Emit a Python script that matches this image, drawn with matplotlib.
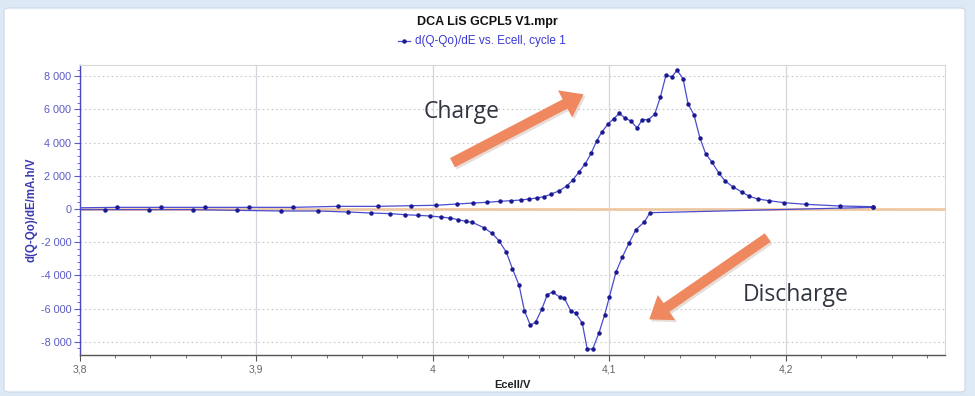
import matplotlib
matplotlib.use("Agg")
import matplotlib.pyplot as plt
from matplotlib.patches import FancyBboxPatch, FancyArrowPatch
from matplotlib.ticker import MultipleLocator, FuncFormatter

# ---- data ----
charge_E = [3.790, 3.8214, 3.8463, 3.871, 3.896, 3.921, 3.9466, 3.9693, 3.988, 4.0019,
            4.0137, 4.0231, 4.0310, 4.0382, 4.0443, 4.0499, 4.0548, 4.0590, 4.0631,
            4.0669, 4.0718, 4.0760, 4.0794, 4.0831, 4.0864, 4.0898, 4.0930, 4.0960,
            4.0994, 4.1026, 4.1058, 4.1092, 4.1124, 4.1158, 4.1188, 4.1222, 4.1258,
            4.1290, 4.1322, 4.1356, 4.1385, 4.1419, 4.1447, 4.1481, 4.1515, 4.1547,
            4.1581, 4.1623, 4.1657, 4.1700, 4.1755, 4.1794, 4.1844, 4.1906, 4.1993,
            4.2114, 4.2308, 4.2494]
charge_dQ = [60, 100, 100, 100, 100, 100, 160, 160, 200, 223,
             301, 361, 404, 464, 500, 542, 602, 663, 741,
             885, 1102, 1385, 1747, 2247, 2711, 3355, 4114, 4659,
             5120, 5442, 5763, 5462, 5301, 4879, 5382, 5382, 5703,
             6727, 8052, 7972, 8353, 7852, 6346, 5663, 4257, 3333,
             2851, 2148, 1687, 1345, 1006, 765, 602, 500, 380,
             283, 181, 139]
discharge_E = [4.2494, 4.1232, 4.1199, 4.1152, 4.1113, 4.1075, 4.1039, 4.1001, 4.0975,
               4.0943, 4.0907, 4.0876, 4.0848, 4.0812, 4.0782, 4.0746, 4.0722, 4.0680,
               4.0650, 4.0618, 4.0584, 4.0554, 4.0520, 4.0490, 4.0452, 4.0418, 4.0376,
               4.0337, 4.0290, 4.0225, 4.0188, 4.0144, 4.0099, 4.0046, 3.9985, 3.9919,
               3.9844, 3.976, 3.965, 3.952, 3.935, 3.9143, 3.8892, 3.8644, 3.8393,
               3.8146, 3.790]
discharge_dQ = [100, -223, -783, -1245, -2048, -2892, -3795, -5321, -6365,
                -7450, -8434, -8434, -6888, -6285, -6124, -5361, -5321, -5000,
                -5160, -6044, -6807, -7008, -6124, -4598, -3594, -2610, -1908,
                -1466, -1125, -803, -743, -642, -542, -482, -422, -382,
                -342, -280, -240, -180, -120, -120, -80, -40, -40,
                -40, -40]

E_all = charge_E + discharge_E
dQ_all = charge_dQ + discharge_dQ

title = "DCA LiS GCPL5 V1.mpr"
series_label = "d(Q-Qo)/dE vs. Ecell, cycle 1"
xlabel = "Ecell/V"
ylabel = "d(Q-Qo)/dE/mA.h/V"

# ---- figure ----
W, H = 975, 396
fig = plt.figure(figsize=(W / 100, H / 100), dpi=100)
fig.patch.set_facecolor("#dde9f4")
bg = FancyBboxPatch((4 / W, 4 / H), (W - 14) / W, (H - 12) / H,
                    boxstyle="round,pad=0,rounding_size=0.006",
                    transform=fig.transFigure, facecolor="white",
                    edgecolor="#c9d9e8", linewidth=0.8, zorder=-5)
fig.patches.append(bg)

ax = fig.add_axes([79.6 / W, 1 - 355 / H, (945 - 79.6) / W, (355 - 65) / H])
ax.set_facecolor("white")

blue_line = "#4b4bd0"
blue_dark = "#1a1a90"
lab_blue = "#5b5bc4"

ax.axhline(0, color="#f6c99c", lw=2.0, zorder=1)
ax.plot(E_all, dQ_all, color=blue_line, lw=0.9, marker="o", ms=2.2,
        mfc=blue_dark, mec=blue_dark, zorder=3)

ax.set_xlim(3.8, 4.2903)
ax.set_ylim(-8795, 8675)

ax.xaxis.set_major_locator(MultipleLocator(0.1))
ax.xaxis.set_minor_locator(MultipleLocator(0.02))
ax.yaxis.set_major_locator(MultipleLocator(2000))
ax.yaxis.set_minor_locator(MultipleLocator(400))

ax.xaxis.set_major_formatter(FuncFormatter(lambda v, p: ("%g" % round(v, 3)).replace(".", ",")))
ax.yaxis.set_major_formatter(FuncFormatter(lambda v, p: "{:,.0f}".format(v).replace(",", " ")))

ax.grid(axis="x", which="major", color="#d4d4dc", lw=0.9, ls="-", zorder=0)
ax.grid(axis="y", which="major", color="#c8c8c8", lw=0.8, ls=(0, (1.5, 2.5)), zorder=0)

font = "Liberation Sans"
ax.tick_params(axis="x", which="major", direction="out", length=4, color="#555555",
               labelsize=7.5, labelcolor="#666666", pad=3)
ax.tick_params(axis="x", which="minor", direction="out", length=2, color="#555555")
ax.tick_params(axis="y", which="major", direction="out", length=4, color=lab_blue,
               labelsize=7.8, labelcolor=lab_blue, pad=2)
ax.tick_params(axis="y", which="minor", direction="out", length=2, color=lab_blue)
for lbl in ax.get_xticklabels() + ax.get_yticklabels():
    lbl.set_fontfamily(font)

ax.spines["left"].set_color("#4848b8")
ax.spines["left"].set_linewidth(1.0)
ax.spines["bottom"].set_color("#555555")
ax.spines["bottom"].set_linewidth(1.0)
for s in ("top", "right"):
    ax.spines[s].set_color("#d8d8d8")
    ax.spines[s].set_linewidth(0.8)

ax.set_xlabel(xlabel, fontfamily=font, fontsize=8, fontweight="bold", color="#222222", labelpad=4)
ax.set_ylabel(ylabel, fontfamily=font, fontsize=8.3, fontweight="bold", color="#3a3ab0", labelpad=2)

# titles
fig.text(487 / W, 1 - 22 / H, title, ha="center", va="center", fontfamily=font,
         fontsize=9, fontweight="bold", color="#111111")
fig.text(415 / W, 1 - 41 / H, series_label, ha="left", va="center", fontfamily=font,
         fontsize=8.5, color="#3a3ad0")
fig.lines.append(plt.Line2D([398 / W, 410 / W], [1 - 41 / H, 1 - 41 / H],
                            transform=fig.transFigure, color=blue_line, lw=0.9))
fig.lines.append(plt.Line2D([404 / W], [1 - 41 / H], transform=fig.transFigure,
                            color=blue_dark, marker="o", ms=2.2, ls="none"))

# annotations
ann_font = "Open Sans"
fig.text(462 / W, 1 - 112 / H, "Charge", ha="center", va="center", fontfamily=ann_font,
         fontsize=16.5, color="#2f3640")
fig.text(796 / W, 1 - 295 / H, "Discharge", ha="center", va="center", fontfamily=ann_font,
         fontsize=16.5, color="#2f3640")

arrow_col = "#ef875f"
style = "simple,head_length=1.5,head_width=2.2,tail_width=0.75"
for (x0, y0, x1, y1) in [(450, 164, 586, 93), (770, 236, 647, 321)]:
    fig.patches.append(FancyArrowPatch(
        ((x0 + 2) / W, 1 - (y0 + 2) / H), ((x1 + 2) / W, 1 - (y1 + 2) / H),
        transform=fig.transFigure, arrowstyle=style,
        mutation_scale=10, color="#d8c8c0", alpha=0.6, lw=0, zorder=4))
    fig.patches.append(FancyArrowPatch(
        (x0 / W, 1 - y0 / H), (x1 / W, 1 - y1 / H),
        transform=fig.transFigure, arrowstyle=style,
        mutation_scale=10, color=arrow_col, lw=0, zorder=5))

fig.savefig("out.png", dpi=100, facecolor=fig.get_facecolor())
